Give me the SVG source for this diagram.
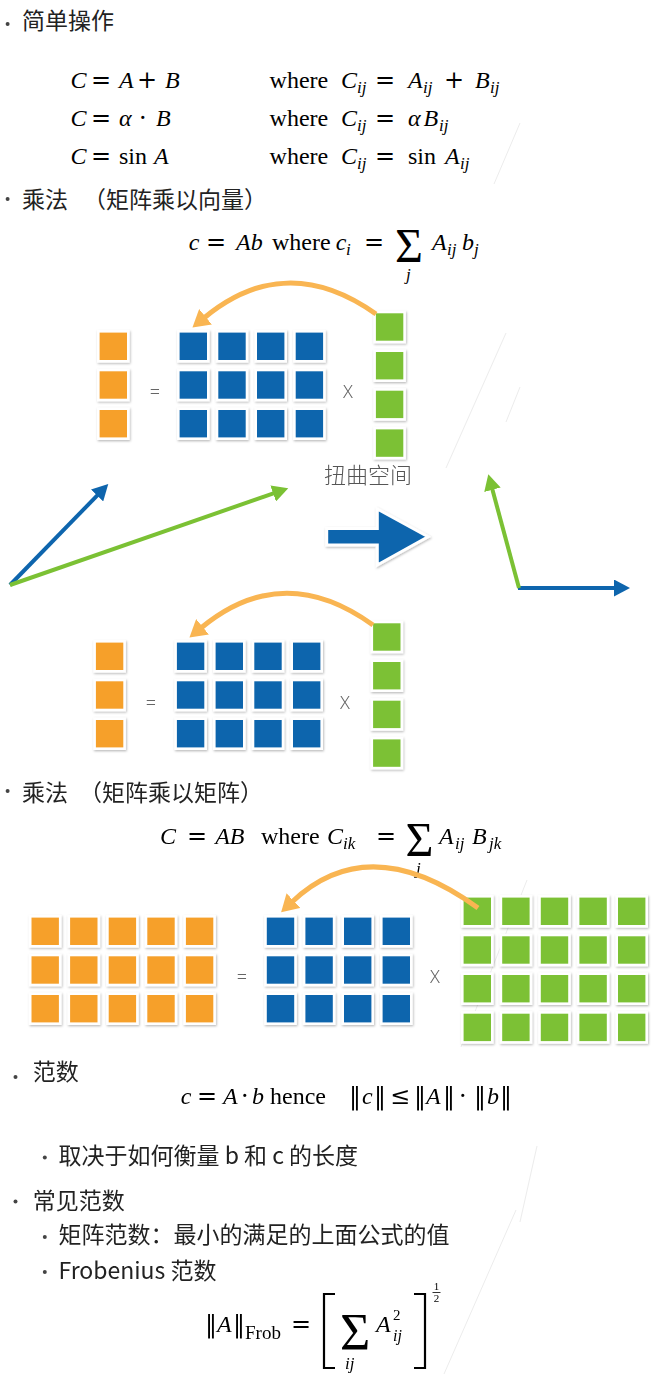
<svg xmlns="http://www.w3.org/2000/svg" width="666" height="1374" viewBox="0 0 666 1374">
<style>
.t{font-family:"Noto Sans CJK SC","Noto Sans",sans-serif;font-size:23px;fill:#222}
.bul{fill:#444}
.m{font-family:"Liberation Serif","DejaVu Serif",serif;font-size:24px;fill:#000}
.i{font-style:italic}
.sb{font-size:17px;font-style:italic}
.op{font-family:"DejaVu Serif","Liberation Serif",serif;font-style:normal}
.sum{font-size:48px;font-style:normal}
.ops{font-family:"Noto Sans","DejaVu Sans",sans-serif;font-weight:300;font-size:18px;fill:#666;text-anchor:middle}
.lbl{font-family:"Noto Sans CJK SC",sans-serif;font-weight:300;font-size:22px;fill:#555}
.faint{stroke:#ececec;stroke-width:1;fill:none}
.vec{fill:none;stroke-width:4}
.arc{fill:none;stroke:#F9B552;stroke-width:5}
</style>
<defs>
<filter id="sh" x="-10%" y="-10%" width="130%" height="130%">
<feDropShadow dx="0.8" dy="1.2" stdDeviation="1.1" flood-color="#000" flood-opacity="0.28"/>
</filter>
<rect id="cO" width="30" height="30" fill="#F6A02B" stroke="#fff" stroke-width="2.6"/>
<rect id="cB" width="30" height="30" fill="#0E65AD" stroke="#fff" stroke-width="2.6"/>
<rect id="cG" width="30" height="30" fill="#7BC134" stroke="#fff" stroke-width="2.6"/>
<marker id="hO" markerUnits="userSpaceOnUse" markerWidth="18" markerHeight="20" refX="2" refY="10" orient="auto"><path d="M0,0 L17,10 L0,20 z" fill="#F9B552"/></marker>
<marker id="hB" markerUnits="userSpaceOnUse" markerWidth="17" markerHeight="17" refX="1" refY="8.5" orient="auto"><path d="M0,0 L16,8.5 L0,17 z" fill="#0E65AD"/></marker>
<marker id="hG" markerUnits="userSpaceOnUse" markerWidth="17" markerHeight="17" refX="1" refY="8.5" orient="auto"><path d="M0,0 L16,8.5 L0,17 z" fill="#7BC134"/></marker>
</defs>
<rect width="666" height="1374" fill="#fff"/>

<g id="decor">
<line class="faint" x1="520" y1="123" x2="494" y2="184"/>
<line class="faint" x1="506" y1="333" x2="446" y2="468"/>
<line class="faint" x1="520" y1="387" x2="506" y2="422"/>
<line class="faint" x1="527" y1="880" x2="461" y2="1047"/>
<line class="faint" x1="537" y1="1146" x2="520" y2="1222"/>
<line class="faint" x1="516" y1="1210" x2="444" y2="1374"/>
</g>

<g id="sec-simple">
<circle class="bul" cx="7.6" cy="24" r="2"/>
<text class="t" x="22" y="28.5">简单操作</text>
</g>

<g id="formulas-simple">
<text class="m"><tspan class="i" x="70.6" y="88">C</tspan><tspan class="op" x="91" y="88">=</tspan><tspan class="i" x="119" y="88">A</tspan><tspan class="op" x="137" y="88">+</tspan><tspan class="i" x="165" y="88">B</tspan></text>
<text class="m"><tspan x="269.6" y="88">where</tspan><tspan class="i" x="341" y="88">C</tspan><tspan class="sb" x="357" y="93">ij</tspan><tspan class="op" x="375" y="88">=</tspan><tspan class="i" x="408" y="88">A</tspan><tspan class="sb" x="423" y="93">ij</tspan><tspan class="op" x="444" y="88">+</tspan><tspan class="i" x="475" y="88">B</tspan><tspan class="sb" x="490" y="93">ij</tspan></text>
<text class="m"><tspan class="i" x="70.6" y="126">C</tspan><tspan class="op" x="91" y="126">=</tspan><tspan class="i" x="119" y="126">α</tspan><tspan class="op" x="139" y="126">·</tspan><tspan class="i" x="156" y="126">B</tspan></text>
<text class="m"><tspan x="269.6" y="126">where</tspan><tspan class="i" x="341" y="126">C</tspan><tspan class="sb" x="357" y="131">ij</tspan><tspan class="op" x="375" y="126">=</tspan><tspan class="i" x="408" y="126">α</tspan><tspan class="i" x="423.6" y="126">B</tspan><tspan class="sb" x="439" y="131">ij</tspan></text>
<text class="m"><tspan class="i" x="70.6" y="164">C</tspan><tspan class="op" x="91" y="164">=</tspan><tspan x="119" y="164">sin</tspan><tspan class="i" x="154" y="164">A</tspan></text>
<text class="m"><tspan x="269.6" y="164">where</tspan><tspan class="i" x="341" y="164">C</tspan><tspan class="sb" x="357" y="169">ij</tspan><tspan class="op" x="375" y="164">=</tspan><tspan x="408" y="164">sin</tspan><tspan class="i" x="445" y="164">A</tspan><tspan class="sb" x="460" y="169">ij</tspan></text>
</g>

<g id="sec-matvec">
<circle class="bul" cx="7.6" cy="199" r="2"/>
<text class="t" x="22" y="208">乘法<tspan x="83">（矩阵乘以向量）</tspan></text>
<text class="m"><tspan class="i" x="188.7" y="250">c</tspan><tspan class="op" x="206" y="250">=</tspan><tspan class="i" x="236" y="250">Ab</tspan><tspan x="272" y="250">where</tspan><tspan class="i" x="335.7" y="250">c</tspan><tspan class="sb" x="346" y="255">i</tspan><tspan class="op" x="364" y="250">=</tspan><tspan class="sum" x="395" y="262">Σ</tspan><tspan class="sb" x="406" y="280">j</tspan><tspan class="i" x="432" y="250">A</tspan><tspan class="sb" x="447" y="255">ij</tspan><tspan class="i" x="462" y="250">b</tspan><tspan class="sb" x="474" y="255">j</tspan></text>
</g>

<g id="matrix-1" filter="url(#sh)">
<use href="#cO" x="98.3" y="331.3"/><use href="#cO" x="98.3" y="370"/><use href="#cO" x="98.3" y="408.7"/>
<use href="#cB" x="178.3" y="331.3"/><use href="#cB" x="217" y="331.3"/><use href="#cB" x="255.7" y="331.3"/><use href="#cB" x="294.4" y="331.3"/>
<use href="#cB" x="178.3" y="370"/><use href="#cB" x="217" y="370"/><use href="#cB" x="255.7" y="370"/><use href="#cB" x="294.4" y="370"/>
<use href="#cB" x="178.3" y="408.7"/><use href="#cB" x="217" y="408.7"/><use href="#cB" x="255.7" y="408.7"/><use href="#cB" x="294.4" y="408.7"/>
<use href="#cG" x="374.6" y="312"/><use href="#cG" x="374.6" y="350.7"/><use href="#cG" x="374.6" y="389.4"/><use href="#cG" x="374.6" y="428.1"/>
</g>
<g id="ops-1">
<text class="ops" x="155" y="398">=</text>
<text class="ops" x="348" y="398">X</text>
</g>

<g id="label-warp">
<text class="lbl" x="324" y="483">扭曲空间</text>
</g>

<g id="big-arrow" filter="url(#sh)">
<polygon points="326.7,528.5 377.3,528.5 377.3,509 428,536.7 377.3,565 377.3,545 326.7,545" fill="#0E65AD" stroke="#fff" stroke-width="3" stroke-linejoin="miter"/>
</g>

<g id="matrix-2" filter="url(#sh)">
<use href="#cO" x="94.6" y="641.3"/><use href="#cO" x="94.6" y="680"/><use href="#cO" x="94.6" y="718.7"/>
<use href="#cB" x="175.6" y="641.3"/><use href="#cB" x="214.3" y="641.3"/><use href="#cB" x="253" y="641.3"/><use href="#cB" x="291.7" y="641.3"/>
<use href="#cB" x="175.6" y="680"/><use href="#cB" x="214.3" y="680"/><use href="#cB" x="253" y="680"/><use href="#cB" x="291.7" y="680"/>
<use href="#cB" x="175.6" y="718.7"/><use href="#cB" x="214.3" y="718.7"/><use href="#cB" x="253" y="718.7"/><use href="#cB" x="291.7" y="718.7"/>
<use href="#cG" x="371.8" y="622"/><use href="#cG" x="371.8" y="660.7"/><use href="#cG" x="371.8" y="699.4"/><use href="#cG" x="371.8" y="738.1"/>
</g>
<g id="ops-2">
<text class="ops" x="151" y="709">=</text>
<text class="ops" x="345" y="709">X</text>
</g>

<g id="sec-matmat">
<circle class="bul" cx="7.6" cy="791" r="2"/>
<text class="t" x="22" y="801">乘法<tspan x="79">（矩阵乘以矩阵）</tspan></text>
<text class="m"><tspan class="i" x="160" y="844">C</tspan><tspan class="op" x="187" y="844">=</tspan><tspan class="i" x="215.2" y="844">AB</tspan><tspan x="261" y="844">where</tspan><tspan class="i" x="327" y="844">C</tspan><tspan class="sb" x="343" y="849">ik</tspan><tspan class="op" x="376" y="844">=</tspan><tspan class="sum" x="405.5" y="856">Σ</tspan><tspan class="sb" x="416" y="874">j</tspan><tspan class="i" x="439" y="844">A</tspan><tspan class="sb" x="455" y="849">ij</tspan><tspan class="i" x="472" y="844">B</tspan><tspan class="sb" x="489" y="849">jk</tspan></text>
</g>

<g id="matrix-3" filter="url(#sh)">
<use href="#cO" x="30.2" y="916.3"/><use href="#cO" x="68.8" y="916.3"/><use href="#cO" x="107.4" y="916.3"/><use href="#cO" x="146" y="916.3"/><use href="#cO" x="184.6" y="916.3"/>
<use href="#cO" x="30.2" y="955"/><use href="#cO" x="68.8" y="955"/><use href="#cO" x="107.4" y="955"/><use href="#cO" x="146" y="955"/><use href="#cO" x="184.6" y="955"/>
<use href="#cO" x="30.2" y="993.7"/><use href="#cO" x="68.8" y="993.7"/><use href="#cO" x="107.4" y="993.7"/><use href="#cO" x="146" y="993.7"/><use href="#cO" x="184.6" y="993.7"/>
<use href="#cB" x="265.5" y="916.3"/><use href="#cB" x="304.1" y="916.3"/><use href="#cB" x="342.7" y="916.3"/><use href="#cB" x="381.3" y="916.3"/>
<use href="#cB" x="265.5" y="955"/><use href="#cB" x="304.1" y="955"/><use href="#cB" x="342.7" y="955"/><use href="#cB" x="381.3" y="955"/>
<use href="#cB" x="265.5" y="993.7"/><use href="#cB" x="304.1" y="993.7"/><use href="#cB" x="342.7" y="993.7"/><use href="#cB" x="381.3" y="993.7"/>
<use href="#cG" x="462.3" y="896.3"/><use href="#cG" x="500.9" y="896.3"/><use href="#cG" x="539.5" y="896.3"/><use href="#cG" x="578.1" y="896.3"/><use href="#cG" x="616.7" y="896.3"/>
<use href="#cG" x="462.3" y="935"/><use href="#cG" x="500.9" y="935"/><use href="#cG" x="539.5" y="935"/><use href="#cG" x="578.1" y="935"/><use href="#cG" x="616.7" y="935"/>
<use href="#cG" x="462.3" y="973.7"/><use href="#cG" x="500.9" y="973.7"/><use href="#cG" x="539.5" y="973.7"/><use href="#cG" x="578.1" y="973.7"/><use href="#cG" x="616.7" y="973.7"/>
<use href="#cG" x="462.3" y="1012.4"/><use href="#cG" x="500.9" y="1012.4"/><use href="#cG" x="539.5" y="1012.4"/><use href="#cG" x="578.1" y="1012.4"/><use href="#cG" x="616.7" y="1012.4"/>
</g>
<g id="ops-3">
<text class="ops" x="242" y="983">=</text>
<text class="ops" x="435" y="983">X</text>
</g>

<g id="sec-norm">
<circle class="bul" cx="15.5" cy="1077" r="2"/>
<text class="t" x="32.7" y="1079.5">范数</text>
<text class="m"><tspan class="i" x="180.8" y="1104">c</tspan><tspan class="op" x="197" y="1104">=</tspan><tspan class="i" x="223" y="1104">A</tspan><tspan class="op" x="241" y="1104">·</tspan><tspan class="i" x="252" y="1104">b</tspan><tspan x="270" y="1104">hence</tspan><tspan class="op" x="349" y="1104">‖</tspan><tspan class="i" x="362" y="1104">c</tspan><tspan class="op" x="374" y="1104">‖</tspan><tspan class="op" x="390" y="1104">≤</tspan><tspan class="op" x="414" y="1104">‖</tspan><tspan class="i" x="426" y="1104">A</tspan><tspan class="op" x="443" y="1104">‖</tspan><tspan class="op" x="459" y="1104">·</tspan><tspan class="op" x="474" y="1104">‖</tspan><tspan class="i" x="487" y="1104">b</tspan><tspan class="op" x="500" y="1104">‖</tspan></text>
<circle class="bul" cx="44.8" cy="1157.4" r="2"/>
<text class="t" x="58.5" y="1164">取决于如何衡量 b 和 c 的长度</text>
</g>

<g id="sec-common">
<circle class="bul" cx="15.5" cy="1201.5" r="2"/>
<text class="t" x="32.7" y="1208.5">常见范数</text>
<circle class="bul" cx="44.8" cy="1237" r="2"/>
<text class="t" x="58.5" y="1243">矩阵范数：最小的满足的上面公式的值</text>
<circle class="bul" cx="44.8" cy="1272" r="2"/>
<text class="t" x="58.5" y="1279">Frobenius 范数</text>
</g>

<g id="formula-frob">
<text class="m"><tspan class="op" x="205" y="1332">‖</tspan><tspan class="i" x="217" y="1332">A</tspan><tspan class="op" x="233" y="1332">‖</tspan><tspan x="245" y="1339" style="font-size:19px">Frob</tspan><tspan class="op" x="291" y="1332">=</tspan><tspan class="sum" x="340" y="1350" style="font-size:52px">Σ</tspan><tspan class="sb" x="345" y="1369">ij</tspan><tspan class="i" x="376" y="1332">A</tspan><tspan x="393" y="1320" style="font-size:15px">2</tspan><tspan class="sb" x="393" y="1341" style="font-size:16px">ij</tspan></text>
<path d="M335,1294 H324 V1368 H335" fill="none" stroke="#000" stroke-width="2.2"/>
<path d="M414,1294 H425 V1368 H414" fill="none" stroke="#000" stroke-width="2.2"/>
<text class="m" x="436.5" y="1290" style="font-size:11px" text-anchor="middle">1</text>
<line x1="432.5" y1="1292.5" x2="440.5" y2="1292.5" stroke="#000" stroke-width="0.8"/>
<text class="m" x="436.5" y="1301.5" style="font-size:11px" text-anchor="middle">2</text>
</g>

<g id="connectors">
<path class="arc" d="M376,314 Q286,250 204,318" marker-end="url(#hO)"/>
<path class="arc" d="M373,625 Q283,560 201,628" marker-end="url(#hO)"/>
<path class="arc" d="M478,908 Q369,829 292,902" marker-end="url(#hO)"/>
<line class="vec" x1="10" y1="585" x2="97.8" y2="494.8" stroke="#0E65AD" marker-end="url(#hB)"/>
<line class="vec" x1="10" y1="585" x2="274.1" y2="493.2" stroke="#7BC134" marker-end="url(#hG)"/>
<line class="vec" x1="518" y1="588" x2="615" y2="588" stroke="#0E65AD" marker-end="url(#hB)"/>
<line class="vec" x1="519" y1="588" x2="492.2" y2="488.8" stroke="#7BC134" marker-end="url(#hG)"/>
</g>
</svg>
